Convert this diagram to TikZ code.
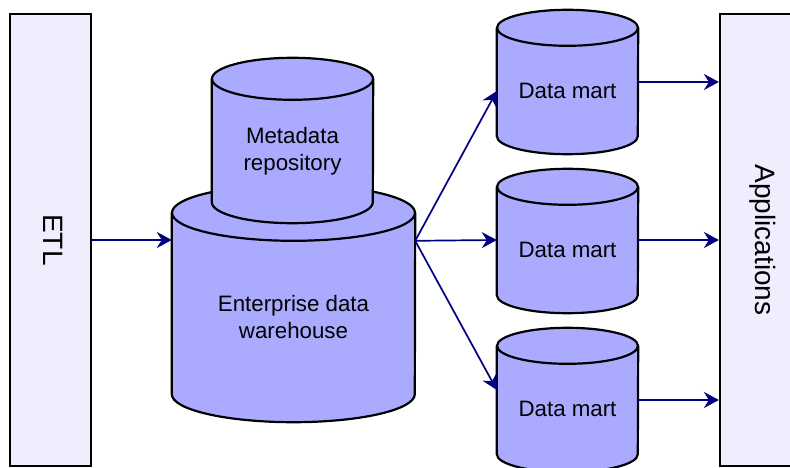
\documentclass[tikz,border=0pt]{standalone}
\usepackage{fontspec}
\setmainfont{Liberation Sans}
\usepackage{graphicx}
\usetikzlibrary{arrows.meta,calc}
\pgfdeclarelayer{background}
\pgfsetlayers{background,main}

\definecolor{drumfill}{HTML}{AAAAFF}
\definecolor{panelfill}{HTML}{EEEEFF}
\definecolor{flowblue}{HTML}{000080}

\tikzset{
  panel/.style={draw=black, line width=2.2bp, fill=panelfill, inner sep=0pt,
    font=\fontsize{28bp}{32bp}\selectfont},
  storebody/.style={inner sep=0pt, align=center,
    font=\fontsize{22.3bp}{27bp}\selectfont},
  drumline/.style={draw=black, line width=2.2bp, fill=drumfill},
  flow/.style={draw=flowblue, line width=1.7bp,
    -{Stealth[length=15bp,width=16bp,inset=5bp]}}
}

% Cylinder around a body node: #1 node, #2 x radius, #3 y radius.
% The node spans from the front lip of the top face to the centre of the base.
\newcommand\drum[3]{%
  \path[drumline] ([yshift=#3]#1.north west) -- (#1.south west)
    arc[start angle=180, end angle=360, x radius=#2, y radius=#3]
    -- ([yshift=#3]#1.north east);
  \path[drumline] ([yshift=#3]#1.north) ellipse [x radius=#2, y radius=#3];
}

\begin{document}
\begin{tikzpicture}[x=1bp, y=-1bp]
  \useasboundingbox (0,0) rectangle (790,468);
  \clip (0,0) rectangle (790,468);

  % side panels
  \node[panel, minimum width=81bp, minimum height=452bp] (etl) at (50.5,240)
    {\hspace*{5bp}\rotatebox{-90}{ETL}};
  \node[panel, minimum width=85bp, minimum height=452bp] (apps) at (762.5,240)
    {\rotatebox{-90}{Applications}};

  % stores
  \node[storebody, minimum width=243bp, minimum height=153bp] (edw) at (293.5,317.5)
    {Enterprise data\\warehouse};
  \node[storebody, minimum width=161bp, minimum height=102bp] (meta) at (292.5,151)
    {Metadata\\repository};
  \node[storebody, minimum width=141bp, minimum height=90bp] (dm1) at (567.5,91)
    {Data mart};
  \node[storebody, minimum width=141bp, minimum height=90bp] (dm2) at (567.5,250)
    {Data mart};
  \node[storebody, minimum width=141bp, minimum height=90bp] (dm3) at (567.5,409)
    {Data mart};

  \begin{pgfonlayer}{background}
    \drum{edw}{121.5bp}{28bp}
    \drum{meta}{80.5bp}{21bp}
    \drum{dm1}{70.5bp}{18bp}
    \drum{dm2}{70.5bp}{18bp}
    \drum{dm3}{70.5bp}{18bp}
  \end{pgfonlayer}

  % data flow
  \draw[flow] (etl.east) -- (etl.east -| edw.west);
  \draw[flow] (edw.north east) -- (dm1.west);
  \draw[flow] (edw.north east) -- ([yshift=10bp]dm2.west);
  \draw[flow] (edw.north east) -- ([yshift=19bp]dm3.west);
  \draw[flow] ([yshift=9bp]dm1.east) -- ([yshift=9bp]dm1.east -| apps.west);
  \draw[flow] ([yshift=10bp]dm2.east) -- ([yshift=10bp]dm2.east -| apps.west);
  \draw[flow] ([yshift=9bp]dm3.east) -- ([yshift=9bp]dm3.east -| apps.west);
\end{tikzpicture}
\end{document}
